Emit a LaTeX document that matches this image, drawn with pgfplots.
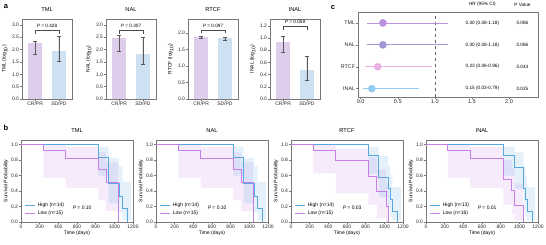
\documentclass[border=0pt]{standalone}
\usepackage{fontspec}
\setmainfont{Liberation Sans}
\usepackage{pgfplots}
\pgfplotsset{compat=1.18}
\usepgfplotslibrary{fillbetween}

\definecolor{barPc}{RGB}{222,206,236}
\definecolor{barBc}{RGB}{206,225,242}
\definecolor{kmB}{RGB}{88,168,222}
\definecolor{kmP}{RGB}{196,128,228}
\definecolor{fTML}{RGB}{186,145,222}
\definecolor{fNAL}{RGB}{160,152,212}
\definecolor{fRTCF}{RGB}{232,176,226}
\definecolor{fINAL}{RGB}{146,204,240}
\definecolor{frm}{RGB}{120,120,120}

\newcommand{\tf}{\fontsize{5}{6}\selectfont}
\newcommand{\smf}{\fontsize{4.7}{5.5}\selectfont}
\newcommand{\ttl}{\fontsize{5.7}{6.5}\selectfont}

\pgfplotsset{
  base/.style={scale only axis, clip=false,
    axis line style={frm, line width=0.5pt},
    tick style={frm, line width=0.4pt},
    tick align=outside, tick pos=left, major tick length=1.8pt,
    ticklabel style={font=\tf, text=black!85, inner sep=1pt},
    label style={font=\tf},
    title style={font=\ttl, at={(0.5,1)}, anchor=south, yshift=0.3pt, inner sep=1pt},
    /pgf/number format/assume math mode=true,
    /pgf/number format/1000 sep={}},
  barax/.style={base, width=50pt, height=80pt, xmin=-0.55, xmax=1.55, ymin=0,
    xtick={0,1}, xticklabels={CR/PR,SD/PD},
    yticklabel style={/pgf/number format/.cd, fixed, fixed zerofill, precision=1}},
  cbar/.style={ybar, bar width=0.6, bar shift=0pt, draw=none,
    error bars/y dir=both, error bars/y explicit,
    error bars/error bar style={black!65, line width=0.45pt},
    error bars/error mark options={rotate=90, black!65, mark size=2pt, line width=0.45pt}},
  brk/.style={black!70, line width=0.4pt},
  kmax/.style={base, width=112pt, height=82pt, xmin=0, xmax=1200, ymin=0, ymax=1.06,
    xtick={0,200,400,600,800,1000,1200}, ytick={0,0.2,0.4,0.6,0.8,1},
    yticklabel style={/pgf/number format/.cd, fixed, fixed zerofill, precision=1},
    xlabel={Time (days)}, ylabel={Survival Probability},
    xlabel style={yshift=2pt}, ylabel style={yshift=-2pt},
    legend cell align=left,
    legend style={at={(0.03,0.04)}, anchor=south west, draw=none, fill=none, font=\tf, inner sep=0.5pt, row sep=-1.2pt},
    legend image code/.code={\draw[##1] (0pt,0pt) -- (10pt,0pt);}},
  kmline/.style={const plot, line width=0.8pt, mark=none},
}

\begin{document}
\begin{tikzpicture}[x=1pt,y=1pt]

% panel letters
\node[font=\bfseries\fontsize{7.5}{8}\selectfont] at (6,238) {a};
\node[font=\bfseries\fontsize{7.5}{8}\selectfont] at (6,117) {b};
\node[font=\bfseries\fontsize{7.5}{8}\selectfont] at (333,237) {c};

% ---------------- panel a ----------------
\begin{axis}[barax, at={(22pt,146pt)}, anchor=south west, ymax=3.24,
  ytick={0,0.5,1,1.5,2,2.5,3}, title={TML}, ylabel={TML (log\textsubscript{10})}]
\addplot[cbar, fill=barPc] coordinates {(0,2.25) += (0,0.10) -= (0,0.42)};
\addplot[cbar, fill=barBc] coordinates {(1,1.93) += (0,0.62) -= (0,0.40)};
\addplot[brk] coordinates {(0,2.64) (0,2.78) (1,2.78) (1,2.64)};
\node[font=\smf] at (axis cs:0.5,2.95) {\textit{P} = 0.428};
\end{axis}

\begin{axis}[barax, at={(106pt,146pt)}, anchor=south west, ymax=3.24,
  ytick={0,0.5,1,1.5,2,2.5,3}, title={NAL}, ylabel={NAL (log\textsubscript{10})}]
\addplot[cbar, fill=barPc] coordinates {(0,2.47) += (0,0.11) -= (0,0.53)};
\addplot[cbar, fill=barBc] coordinates {(1,1.83) += (0,0.66) -= (0,0.41)};
\addplot[brk] coordinates {(0,2.64) (0,2.78) (1,2.78) (1,2.64)};
\node[font=\smf] at (axis cs:0.5,2.95) {\textit{P} = 0.307};
\end{axis}

\begin{axis}[barax, at={(188pt,146pt)}, anchor=south west, ymax=2.42,
  ytick={0,0.5,1,1.5,2}, title={RTCF}, ylabel={RTCF (log\textsubscript{10})}]
\addplot[cbar, fill=barPc] coordinates {(0,1.88) += (0,0.03) -= (0,0.03)};
\addplot[cbar, fill=barBc] coordinates {(1,1.83) += (0,0.05) -= (0,0.05)};
\addplot[brk] coordinates {(0,1.99) (0,2.08) (1,2.08) (1,1.99)};
\node[font=\smf] at (axis cs:0.5,2.21) {\textit{P} = 0.097};
\end{axis}

\begin{axis}[barax, at={(270pt,146pt)}, anchor=south west, ymax=1.31,
  ytick={0,0.2,0.4,0.6,0.8,1,1.2}, title={INAL}, ylabel={INAL (log\textsubscript{10})}]
\addplot[cbar, fill=barPc] coordinates {(0,0.94) += (0,0.09) -= (0,0.17)};
\addplot[cbar, fill=barBc] coordinates {(1,0.47) += (0,0.23) -= (0,0.17)};
\addplot[brk] coordinates {(0,1.13) (0,1.19) (1,1.19) (1,1.13)};
\node[font=\smf] at (axis cs:0.5,1.265) {\textit{P} = 0.059};
\end{axis}

% ---------------- panel c ----------------
\begin{axis}[base, at={(358pt,148pt)}, anchor=south west, width=180pt, height=85pt,
  xmin=-0.036, xmax=2.39, ymin=0.62, ymax=4.5,
  xtick={0,0.5,1,1.5,2}, ytick={1,2,3,4}, yticklabels={INAL,RTCF,NAL,TML},
  xticklabel style={font=\fontsize{5.6}{6.5}\selectfont, /pgf/number format/.cd, fixed, fixed zerofill, precision=1},
  yticklabel style={font=\fontsize{5.3}{6.5}\selectfont}]
\addplot[black!60, dashed, line width=0.5pt] coordinates {(1,0.62) (1,4.5)};
\addplot[fTML, line width=0.8pt] coordinates {(0.08,4) (1.18,4)};
\addplot[fNAL, line width=0.8pt] coordinates {(0.08,3) (1.18,3)};
\addplot[fRTCF, line width=0.8pt] coordinates {(0.06,2) (0.96,2)};
\addplot[fINAL, line width=0.8pt] coordinates {(0.03,1) (0.79,1)};
\addplot[only marks, mark=*, mark size=3.6pt, fTML, mark options={draw=none}] coordinates {(0.30,4)};
\addplot[only marks, mark=*, mark size=3.6pt, fNAL, mark options={draw=none}] coordinates {(0.30,3)};
\addplot[only marks, mark=*, mark size=3.6pt, fRTCF, mark options={draw=none}] coordinates {(0.23,2)};
\addplot[only marks, mark=*, mark size=3.6pt, fINAL, mark options={draw=none}] coordinates {(0.15,1)};
\node[font=\smf] at (axis cs:1.64,4) {0.30 (0.08-1.18)};
\node[font=\smf] at (axis cs:1.64,3) {0.30 (0.08-1.18)};
\node[font=\smf] at (axis cs:1.64,2) {0.23 (0.06-0.96)};
\node[font=\smf] at (axis cs:1.64,1) {0.15 (0.03-0.79)};
\node[font=\smf] at (axis cs:2.18,4) {0.086};
\node[font=\smf] at (axis cs:2.18,3) {0.086};
\node[font=\smf] at (axis cs:2.18,2) {0.043};
\node[font=\smf] at (axis cs:2.18,1) {0.025};
\node[font=\smf, anchor=south] at (axis cs:1.64,4.5) [yshift=2pt] {HR (95\% CI)};
\node[font=\smf, anchor=south] at (axis cs:2.18,4.5) [yshift=2pt] {P Value};
\end{axis}

% ---------------- panel b ----------------
% TML
\begin{axis}[kmax, at={(21pt,23pt)}, anchor=south west, title={TML}]
\addplot[name path=pu, const plot, draw=none, forget plot] coordinates {(240,1) (480,0.97) (830,0.9) (910,0.77) (1040,0.77)};
\addplot[name path=pl, const plot, draw=none, forget plot] coordinates {(240,0.57) (480,0.44) (830,0.28) (910,0.14) (1040,0.14)};
\addplot[fill=kmP, fill opacity=0.16, draw=none, forget plot] fill between[of=pu and pl];
\addplot[name path=bu, const plot, draw=none, forget plot] coordinates {(830,0.97) (940,0.83) (1050,0.72) (1090,0.52) (1180,0.52)};
\addplot[name path=bl, const plot, draw=none, forget plot] coordinates {(830,0.6) (940,0.24) (1050,0.12) (1090,0.02) (1180,0.02)};
\addplot[fill=kmB, fill opacity=0.16, draw=none, forget plot] fill between[of=bu and bl];
\addplot[kmline, kmB] coordinates {(0,1) (830,0.83) (940,0.5) (1050,0.33) (1090,0.17) (1140,0)};
\addplot[kmline, kmP] coordinates {(0,1) (240,0.92) (480,0.82) (830,0.68) (910,0.51) (1040,0)};
\legend{High (n=14), Low (n=15)}
\node[font=\tf] at (axis cs:655,0.19) {\textit{P} = 0.10};
\end{axis}

% NAL
\begin{axis}[kmax, at={(156pt,23pt)}, anchor=south west, title={NAL}]
\addplot[name path=pu, const plot, draw=none, forget plot] coordinates {(240,1) (480,0.97) (830,0.9) (910,0.77) (1040,0.77)};
\addplot[name path=pl, const plot, draw=none, forget plot] coordinates {(240,0.57) (480,0.44) (830,0.28) (910,0.14) (1040,0.14)};
\addplot[fill=kmP, fill opacity=0.16, draw=none, forget plot] fill between[of=pu and pl];
\addplot[name path=bu, const plot, draw=none, forget plot] coordinates {(830,0.97) (940,0.83) (1050,0.72) (1090,0.52) (1180,0.52)};
\addplot[name path=bl, const plot, draw=none, forget plot] coordinates {(830,0.6) (940,0.24) (1050,0.12) (1090,0.02) (1180,0.02)};
\addplot[fill=kmB, fill opacity=0.16, draw=none, forget plot] fill between[of=bu and bl];
\addplot[kmline, kmB] coordinates {(0,1) (830,0.83) (940,0.5) (1050,0.33) (1090,0.17) (1140,0)};
\addplot[kmline, kmP] coordinates {(0,1) (240,0.92) (480,0.82) (830,0.68) (910,0.51) (1040,0)};
\legend{High (n=14), Low (n=15)}
\node[font=\tf] at (axis cs:655,0.19) {\textit{P} = 0.10};
\end{axis}

% RTCF
\begin{axis}[kmax, at={(291pt,23pt)}, anchor=south west, title={RTCF}]
\addplot[name path=pu, const plot, draw=none, forget plot] coordinates {(240,1) (480,0.95) (830,0.84) (920,0.68) (1020,0.5) (1045,0.5)};
\addplot[name path=pl, const plot, draw=none, forget plot] coordinates {(240,0.63) (480,0.37) (830,0.22) (920,0.05) (1020,0) (1045,0)};
\addplot[fill=kmP, fill opacity=0.16, draw=none, forget plot] fill between[of=pu and pl];
\addplot[name path=bu, const plot, draw=none, forget plot] coordinates {(830,0.97) (940,0.85) (1040,0.72) (1065,0.6) (1085,0.45) (1180,0.45)};
\addplot[name path=bl, const plot, draw=none, forget plot] coordinates {(830,0.62) (940,0.32) (1040,0.17) (1065,0.07) (1085,0.02) (1180,0.02)};
\addplot[fill=kmB, fill opacity=0.16, draw=none, forget plot] fill between[of=bu and bl];
\addplot[kmline, kmB] coordinates {(0,1) (830,0.86) (940,0.57) (1040,0.43) (1065,0.29) (1085,0.14) (1140,0)};
\addplot[kmline, kmP] coordinates {(0,1) (240,0.93) (480,0.79) (830,0.59) (920,0.40) (1020,0.2) (1045,0)};
\legend{High (n=14), Low (n=15)}
\node[font=\tf] at (axis cs:655,0.19) {\textit{P} = 0.03};
\end{axis}

% INAL
\begin{axis}[kmax, at={(426pt,23pt)}, anchor=south west, title={INAL}]
\addplot[name path=pu, const plot, draw=none, forget plot] coordinates {(233,1) (473,0.97) (830,0.8) (920,0.7) (950,0.5) (1040,0.5)};
\addplot[name path=pl, const plot, draw=none, forget plot] coordinates {(233,0.57) (473,0.44) (830,0.22) (920,0.1) (950,0.02) (1040,0.02)};
\addplot[fill=kmP, fill opacity=0.16, draw=none, forget plot] fill between[of=pu and pl];
\addplot[name path=bu, const plot, draw=none, forget plot] coordinates {(830,0.97) (950,0.9) (1046,0.72) (1064,0.6) (1082,0.45) (1170,0.45)};
\addplot[name path=bl, const plot, draw=none, forget plot] coordinates {(830,0.6) (950,0.43) (1046,0.17) (1064,0.08) (1082,0.02) (1170,0.02)};
\addplot[fill=kmB, fill opacity=0.16, draw=none, forget plot] fill between[of=bu and bl];
\addplot[kmline, kmB] coordinates {(0,1) (830,0.86) (950,0.71) (1046,0.43) (1064,0.29) (1082,0.14) (1139,0)};
\addplot[kmline, kmP] coordinates {(0,1) (233,0.92) (473,0.82) (830,0.55) (920,0.41) (950,0.21) (1040,0)};
\legend{High (n=13), Low (n=16)}
\node[font=\tf] at (axis cs:655,0.19) {\textit{P} = 0.01};
\end{axis}

\pgfresetboundingbox
\path[use as bounding box] (0,0) rectangle (546,245);
\end{tikzpicture}
\end{document}
